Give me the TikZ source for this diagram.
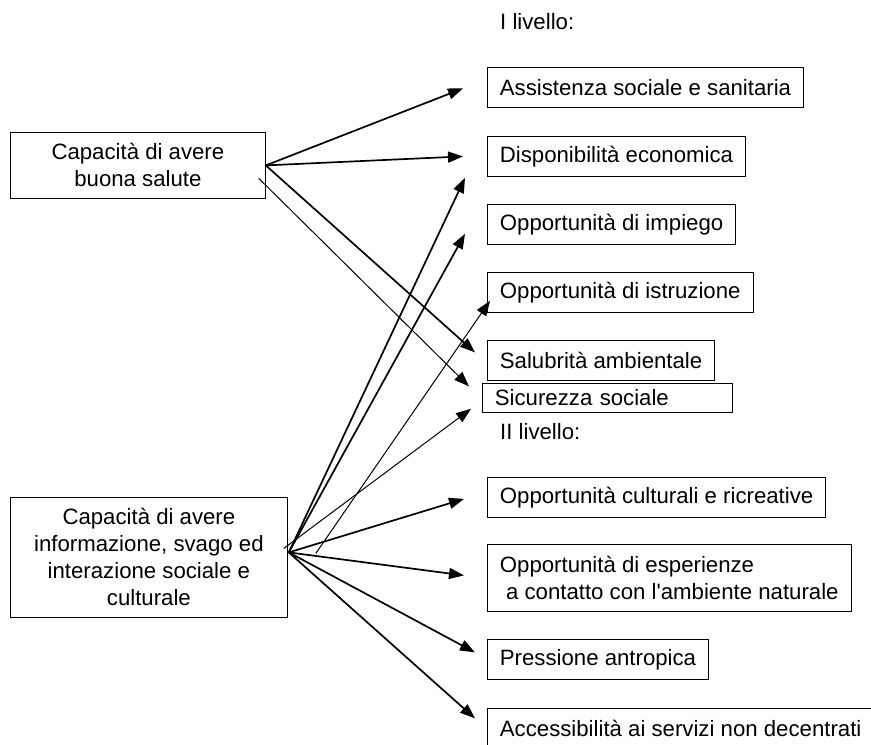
\documentclass[tikz,border=0pt]{standalone}
\usepackage{fontspec}
\setmainfont{Liberation Sans}[Ligatures=TeXOff]
\usetikzlibrary{arrows.meta,calc}

\begin{document}
\begin{tikzpicture}[%
    x=1pt, y=-1pt,
    >={Triangle[length=15pt,width=11pt]},
    every node/.style={font=\fontsize{22.2pt}{27pt}\selectfont},
    box/.style={draw, line width=0.8pt, anchor=north west, inner xsep=12.5pt,
      inner ysep=0pt, minimum height=40pt},
    capbox/.style={draw, line width=0.8pt, anchor=north west, align=center, inner sep=0pt},
    level/.style={anchor=west, inner sep=0pt},
    heavy/.style={line width=1.7pt},
    light/.style={line width=1pt}
  ]
    \useasboundingbox (0,0) rectangle (871,745);

    % capacita'
    \node[capbox, minimum width=255pt, minimum height=66pt] (health) at (10,132)
      {Capacità di avere\\buona salute};
    \node[capbox, minimum width=277pt, minimum height=120pt] (info) at (10,497)
      {Capacità di avere\\informazione, svago ed\\interazione sociale e\\culturale};

    % I livello
    \node[level] (lvl1) at (500,22) {I livello:};
    \node[box] (assist) at (487,67) {Assistenza sociale e sanitaria};
    \node[box] (econ) at (487,136) {Disponibilità economica};
    \node[box] (job) at (487,204) {Opportunità di impiego};
    \node[box] (edu) at (487,272) {Opportunità di istruzione};
    \node[box] (env) at (487,340) {Salubrità ambientale};
    \node[box, minimum height=29pt, text width=225pt, align=left] (safe) at (482,383)
      {Sicurezza sociale};

    % II livello
    \node[level] (lvl2) at (500,432) {II livello:};
    \node[box] (culture) at (487,477) {Opportunità culturali e ricreative};
    \node[box, align=left, minimum height=67pt] (nature) at (487,544)
      {Opportunità di esperienze\\~a contatto con l'ambiente naturale};
    \node[box] (crowd) at (487,639) {Pressione antropica};
    \node[box] (access) at (487,708) {Accessibilità ai servizi non decentrati};

    \coordinate (hub) at ($(info.east)+(1,-5)$);

    \path[->, heavy]
              (health.east) edge ($(assist.west)+(-24,1)$)
              (health.east) edge ($(econ.west)+(-24,0)$)
              (health.east) edge ($(env.west)+(-12,-8)$)
              (hub)         edge ($(econ.south west)+(-22,1)$)
              (hub)         edge ($(job.south west)+(-22,-11)$)
              (hub)         edge ($(culture.west)+(-23,1.5)$)
              (hub)         edge ($(nature.west)+(-23,-2.5)$)
              (hub)         edge ($(crowd.west)+(-12,-7)$)
              (hub)         edge ($(access.west)+(-12,-10)$);
    \path[->, light]
              ($(health.east)+(-7,13)$) edge ($(safe.west)+(-13,-11.5)$)
              ($(hub)+(27,1)$)          edge ($(edu.south west)+(3,-12)$)
              ($(info.east)+(-4,-9)$)   edge ($(safe.south west)+(-11,-4)$);
  \end{tikzpicture}
\end{document}
